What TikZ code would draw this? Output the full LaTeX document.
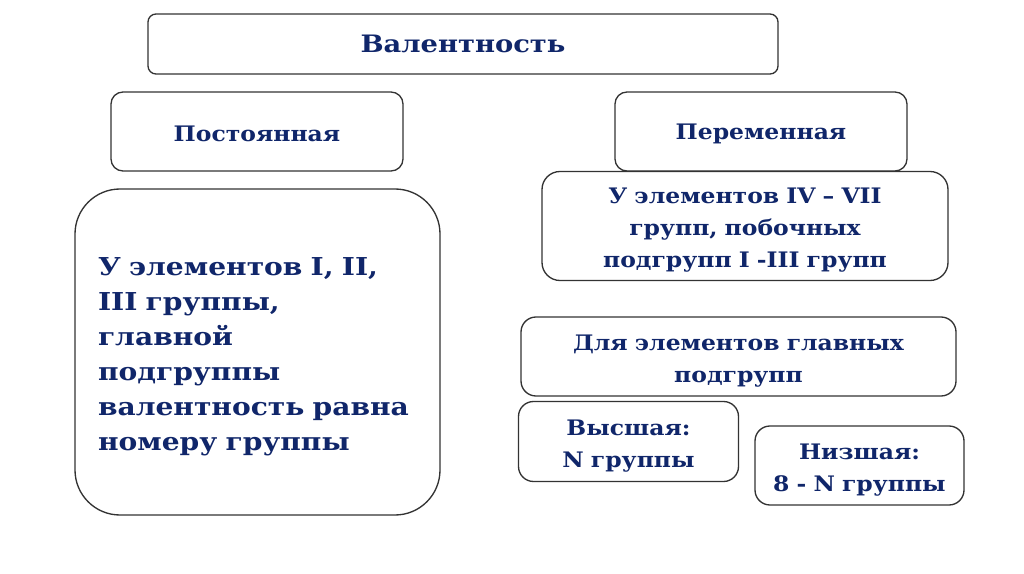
\documentclass[tikz,border=0pt]{standalone}
\usepackage{fontspec}
\setmainfont[FakeStretch=1.1]{DejaVu Serif}
\newfontfamily\widefont[FakeStretch=1.14]{DejaVu Serif}
\definecolor{navy}{HTML}{10266A}
\definecolor{edge}{HTML}{333333}
\begin{document}
\begin{tikzpicture}[x=0.75pt,y=-0.75pt,
  box/.style={draw=edge,line width=1pt,fill=white,rounded corners=#1,text=navy,
    font=\bfseries\fontsize{16}{24}\selectfont,align=center,inner sep=0pt},
  box/.default=9pt,
  low/.style={execute at begin node={\rule{0pt}{#1}}},
  low/.default=18pt]
\useasboundingbox[fill=white] (0,0) rectangle (1024,574);
\node[box=6pt,minimum width=472.5pt,minimum height=45pt,font=\widefont\bfseries\fontsize{18}{20}\selectfont] (val) at (463,44) {Валентность};
\node[box=9pt,minimum width=219pt,minimum height=59.25pt,low=15pt] (post) at (257,131.5) {Постоянная};
\node[box=9pt,minimum width=219pt,minimum height=59.25pt,low=15pt] (per) at (761,131.5) {Переменная};
\node[box=33.75pt,minimum width=273.75pt,minimum height=244.5pt,text width=239.25pt,inner xsep=17.25pt,align=left,
  font=\widefont\bfseries\fontsize{18.5}{26.25}\selectfont,low=21pt] (left) at (257.5,352)
  {У элементов I, II,\\III группы,\\главной\\подгруппы\\валентность равна\\номеру группы};
\node[box=13.5pt,minimum width=304.5pt,minimum height=81.75pt,text width=290pt,inner xsep=7.25pt,low] (iv) at (745,226)
  {У элементов IV – VII\\групп, побочных\\подгрупп I -III групп};
\node[box=11.25pt,minimum width=326.25pt,minimum height=59.25pt,text width=312pt,inner xsep=7.125pt,low] (dla) at (738.5,356.5)
  {Для элементов главных\\подгрупп};
\node[box=11.25pt,minimum width=165pt,minimum height=60pt,text width=155pt,inner xsep=5pt,low] (vys) at (628.5,441.5)
  {Высшая:\\N группы};
\node[box=11.25pt,minimum width=156.75pt,minimum height=59.25pt,text width=146.75pt,inner xsep=5pt,low] (niz) at (859.5,465.5)
  {Низшая:\\8 - N группы};
\end{tikzpicture}
\end{document}
